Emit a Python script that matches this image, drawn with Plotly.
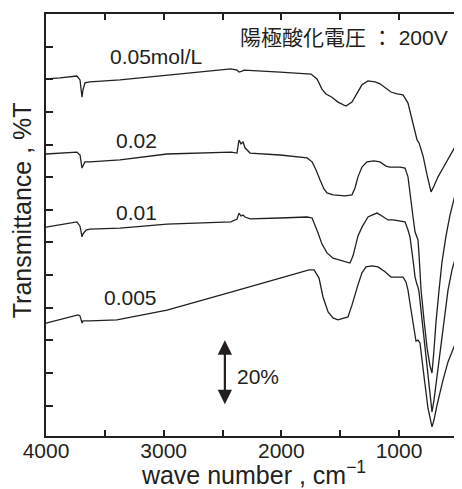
import plotly.graph_objects as go

# ---- data (wavenumber cm^-1, offset %T) ----
wn_005 = [4000, 3881, 3737, 3711, 3694, 3686, 3669, 3626, 3371, 2972, 2428, 2377, 2360, 2334, 2317,
          2011, 1748, 1697, 1655, 1621, 1570, 1519, 1451, 1400, 1357, 1315, 1264, 1204, 1162, 1111,
          1068, 1017, 966, 924, 898, 873, 847, 830, 796, 762, 728, 703, 669, 626, 584, 541, 510,
          499, 490, 482, 473, 465]
t_005 = [100.1, 100.4, 101.0, 99.8, 94.5, 96.7, 98.9, 99.2, 99.8, 101.3, 103.2, 102.8, 102.2, 102.5, 102.8,
         102.2, 101.6, 100.1, 97.0, 95.5, 94.5, 93.0, 91.8, 93.0, 95.8, 98.3, 99.5, 99.2, 98.6, 97.3,
         96.1, 95.5, 95.2, 92.7, 89.0, 84.5, 81.4, 80.5, 76.5, 70.7, 65.5, 67.3, 70.1, 72.8, 75.6, 78.4, 80.2,
         81.6, 80.7, 82.6, 81.4, 82.0]

wn_002 = [4000, 3881, 3737, 3711, 3694, 3686, 3669, 3626, 3371, 2972, 2428, 2377, 2360, 2343, 2326,
          2309, 2266, 2011, 1782, 1739, 1705, 1672, 1638, 1612, 1561, 1459, 1400, 1374, 1349, 1315,
          1272, 1213, 1162, 1111, 1077, 992, 949, 924, 898, 881, 864, 847, 839, 830, 813, 788, 762,
          737, 720, 703, 686, 660, 635, 601, 567, 524, 510, 499, 490, 482, 473, 465]
t_002 = [77.1, 77.4, 77.7, 76.8, 72.8, 73.4, 74.7, 74.7, 75.3, 77.1, 77.7, 77.4, 81.4, 80.2, 80.8,
         79.0, 77.4, 76.8, 75.9, 74.7, 72.2, 69.2, 66.4, 65.2, 64.6, 64.3, 64.6, 66.7, 70.1, 73.1,
         74.7, 75.0, 74.7, 73.4, 73.1, 73.1, 72.8, 70.1, 63.6, 57.8, 53.2, 51.4, 50.8, 46.2, 35.4, 26.3, 17.7,
         12.2, 10.0, 17.1, 25.6, 35.4, 44.0, 52.0, 58.4, 64.6, 65.8, 66.9, 66.2, 68.2, 67.6, 68.8]

wn_001 = [4000, 3881, 3737, 3711, 3694, 3686, 3660, 3626, 3371, 2972, 2428, 2377, 2360, 2343, 2326,
          2309, 2266, 2011, 1782, 1739, 1714, 1688, 1655, 1612, 1561, 1502, 1417, 1391, 1374, 1349,
          1315, 1264, 1230, 1187, 1145, 1094, 1051, 992, 949, 924, 907, 881, 864, 847, 839, 830, 796,
          762, 737, 720, 703, 677, 652, 618, 584, 550, 520, 507, 495, 482, 473, 465]
t_001 = [54.7, 55.4, 56.3, 55.0, 51.7, 52.6, 53.8, 54.1, 54.4, 55.6, 56.3, 57.2, 59.0, 58.1, 58.4,
         57.8, 57.2, 57.5, 57.8, 57.5, 55.4, 52.9, 49.5, 46.8, 45.2, 44.6, 43.7, 45.9, 48.6, 52.0,
         54.7, 57.8, 58.4, 59.0, 58.1, 56.9, 56.9, 56.6, 56.3, 53.8, 51.7, 44.6, 39.4, 37.0, 36.4, 34.8, 23.2,
         10.9, 2.4, -1.9, 1.7, 9.4, 17.1, 26.9, 35.4, 41.6, 45.8, 47.1, 46.3, 47.9, 47.2, 48.6]

wn_0005 = [4000, 3881, 3728, 3711, 3694, 3686, 3626, 3397, 2972, 2428, 2096, 1765, 1722, 1680, 1646,
           1603, 1561, 1519, 1434, 1400, 1349, 1315, 1281, 1230, 1179, 1119, 1068, 1009, 966, 941,
           924, 898, 881, 864, 856, 839, 822, 788, 754, 720, 703, 677, 652, 626, 584, 541, 520,
           507, 499, 490, 482, 473, 465]
t_0005 = [25.3, 26.3, 27.8, 27.5, 25.3, 26.0, 26.0, 26.3, 29.3, 34.8, 38.2, 41.6, 41.6, 39.1, 33.3,
          28.7, 26.9, 26.3, 27.2, 30.8, 37.0, 40.7, 42.5, 42.8, 42.5, 41.0, 39.4, 39.4, 39.4, 37.9,
          35.4, 29.3, 25.3, 21.0, 19.8, 20.1, 19.2, 9.0, -0.8, -6.5, -4.4, 0.2, 4.2, 7.9, 13.4, 17.6, 19.2,
          18.6, 20.7, 19.9, 21.3, 20.6, 22.3]

series = [(wn_005, t_005), (wn_002, t_002), (wn_001, t_001), (wn_0005, t_0005)]

labels = ["0.05mol/L", "0.02", "0.01", "0.005"]
label_wn = [3065, 3235, 3235, 3278]
label_t = [107.1, 81.1, 59.3, 33.0]

x_tickvals = [4000, 3500, 3000, 2500, 2000, 1500, 1000, 500]
x_ticktext = ["4000", " ", "3000", " ", "2000", " ", "1000", " "]
y_tickvals = list(range(0, 121, 10))

scale_bar_wn = 2480
scale_bar = [0, 20]
title_text = "陽極酸化電圧 ： 200V"
y_title = "Transmittance , %T"
x_title = "wave number , cm<sup>−1</sup>"

INK = "#231f20"
FONT = "Liberation Sans, Arial, Noto Sans CJK JP, sans-serif"
X_RANGE = [4000, 465]
Y_RANGE = [-9.3, 120]

fig = go.Figure()
for wn, t in series:
    fig.add_trace(go.Scatter(x=wn, y=t, mode="lines",
                             line=dict(color=INK, width=1.3), showlegend=False,
                             hoverinfo="skip"))
# invisible trace so the mirrored tick axes (top, right) are drawn
fig.add_trace(go.Scatter(x=[None], y=[None], xaxis="x2", yaxis="y2", showlegend=False))

for txt, x, y in zip(labels, label_wn, label_t):
    fig.add_annotation(x=x, y=y, text=txt, showarrow=False,
                       font=dict(family=FONT, size=21, color=INK))

fig.add_annotation(x=2368, y=112.9, text=title_text, showarrow=False, xanchor="left",
                   font=dict(family=FONT, size=21, color=INK))

fig.add_annotation(x=scale_bar_wn, y=scale_bar[1], ax=scale_bar_wn, ay=scale_bar[0],
                   xref="x", yref="y", axref="x", ayref="y", text="",
                   showarrow=True, arrowhead=2, arrowside="end+start",
                   arrowsize=1.3, arrowwidth=2.2, arrowcolor=INK, standoff=0, startstandoff=0)
fig.add_annotation(x=2198, y=8.8, text="20%", showarrow=False,
                   font=dict(family=FONT, size=21, color=INK))

# y-axis title placed as a rotated annotation (sits slightly above centre in the reference)
fig.add_annotation(xref="paper", yref="paper", x=0, y=0.535, xshift=-24, textangle=-90,
                   xanchor="center", yanchor="middle",
                   text=y_title, showarrow=False,
                   font=dict(family=FONT, size=25, color=INK))

# page body has an 8px default margin, so the figure is 8px smaller than the window
fig.update_layout(
    width=454, height=481,
    margin=dict(l=38, r=0, t=6, b=53, autoexpand=False),
    paper_bgcolor="white", plot_bgcolor="white",
    font=dict(family=FONT, color=INK),
    xaxis=dict(range=X_RANGE, tickvals=x_tickvals, ticktext=x_ticktext,
               ticks="inside", ticklen=6, tickwidth=1.5, tickcolor=INK,
               showline=True, linewidth=2.2, linecolor=INK,
               showgrid=False, zeroline=False, ticklabelstandoff=-5,
               tickfont=dict(family=FONT, size=21, color=INK),
               title=dict(text=x_title, standoff=4,
                          font=dict(family=FONT, size=25, color=INK))),
    xaxis2=dict(range=X_RANGE, tickvals=x_tickvals, showticklabels=False,
                overlaying="x", side="top", ticks="inside", ticklen=6, tickwidth=1.5,
                tickcolor=INK, showline=True, linewidth=2.2, linecolor=INK,
                showgrid=False, zeroline=False),
    yaxis=dict(range=Y_RANGE, tickvals=y_tickvals, showticklabels=False,
               ticks="inside", ticklen=7, tickwidth=1.5, tickcolor=INK,
               showline=True, linewidth=2.2, linecolor=INK,
               showgrid=False, zeroline=False),
    yaxis2=dict(range=Y_RANGE, tickvals=y_tickvals, showticklabels=False,
                overlaying="y", side="right", ticks="inside", ticklen=5,
                tickwidth=1.2, tickcolor=INK, showline=False, showgrid=False,
                zeroline=False),
)

fig.write_html("out.html")
